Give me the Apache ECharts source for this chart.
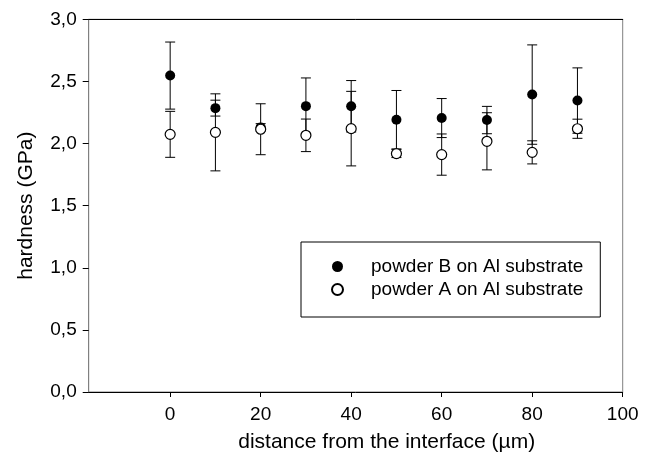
<!DOCTYPE html>
<html>
<head>
<meta charset="utf-8">
<script src="https://cdn.jsdelivr.net/npm/echarts@6/dist/echarts.min.js"></script>
<style>
  html, body { margin: 0; padding: 0; background: #fff; }
  #chart { width: 650px; height: 458px; }
</style>
</head>
<body>
<div id="chart"></div>
<script>
// Distance from the interface (µm)
const distances = [0, 10, 20, 30, 40, 50, 60, 70, 80, 90];

// Powder B on Al substrate: mean hardness (GPa) and error
const hardnessB = [2.547, 2.285, 2.13, 2.301, 2.30, 2.192, 2.205, 2.189, 2.394, 2.346];
const errorB    = [0.27, 0.064, 0.03, 0.227, 0.207, 0.235, 0.157, 0.11, 0.40, 0.263];

// Powder A on Al substrate: mean hardness (GPa) and error
const hardnessA = [2.074, 2.09, 2.115, 2.066, 2.12, 1.919, 1.911, 2.018, 1.929, 2.119];
const errorA    = [0.185, 0.31, 0.205, 0.131, 0.30, 0.032, 0.166, 0.23, 0.093, 0.077];

const xTicks = [0, 20, 40, 60, 80, 100];

const nameB = 'powder B on Al substrate';
const nameA = 'powder A on Al substrate';

const FONT = "'Liberation Sans', Arial, sans-serif";

const points = (ys) => distances.map((x, i) => [x, ys[i]]);
const bars = (ys, es) => distances.map((x, i) => [x, ys[i] - es[i], ys[i] + es[i]]);

function renderErrorBar(params, api) {
  const x = api.value(0);
  const lo = api.coord([x, api.value(1)]);
  const hi = api.coord([x, api.value(2)]);
  const hw = 5;
  const style = { stroke: '#000', lineWidth: 1 };
  return {
    type: 'group',
    children: [
      { type: 'line', shape: { x1: hi[0], y1: hi[1], x2: lo[0], y2: lo[1] }, style },
      { type: 'line', shape: { x1: hi[0] - hw, y1: hi[1], x2: hi[0] + hw, y2: hi[1] }, style },
      { type: 'line', shape: { x1: lo[0] - hw, y1: lo[1], x2: lo[0] + hw, y2: lo[1] }, style }
    ]
  };
}

const chart = echarts.init(document.getElementById('chart'), null, { renderer: 'canvas' });

chart.setOption({
  animation: false,
  backgroundColor: '#fff',
  textStyle: { fontFamily: FONT, color: '#000' },
  grid: {
    left: 88.7, right: 27.3, top: 19.3, bottom: 64.7,
    show: true, borderColor: '#808080', borderWidth: 1
  },
  legend: {
    data: [nameB, nameA],
    orient: 'vertical',
    left: 301, top: 242,
    padding: [15, 17, 18, 30],
    borderColor: '#000', borderWidth: 1,
    backgroundColor: '#fff',
    itemWidth: 11, itemHeight: 11, itemGap: 4,
    icon: 'circle',
    textStyle: { fontFamily: FONT, fontSize: 19, color: '#000', padding: [0, 0, 0, 23] }
  },
  xAxis: [{
    type: 'value',
    min: -18, max: 100,
    name: 'distance from the interface (µm)',
    nameLocation: 'middle',
    nameGap: 40,
    nameTextStyle: { fontFamily: FONT, fontSize: 21, color: '#000', padding: [0, 0, 0, 62] },
    axisLine: { show: true, onZero: false, lineStyle: { color: '#000', width: 1 } },
    axisTick: { show: true, length: 5, customValues: xTicks, lineStyle: { color: '#000' } },
    axisLabel: { customValues: xTicks, fontFamily: FONT, fontSize: 19, color: '#000', margin: 13 },
    splitLine: { show: false }
  }, {
    type: 'value',
    position: 'top',
    min: -18, max: 100,
    axisLine: { show: true, onZero: false, lineStyle: { color: '#000', width: 1 } },
    axisTick: { show: false },
    axisLabel: { show: false },
    splitLine: { show: false }
  }],
  yAxis: {
    type: 'value',
    position: 'left',
    min: 0, max: 3, interval: 0.5,
    name: 'hardness (GPa)',
    nameLocation: 'middle',
    nameGap: 52,
    nameTextStyle: { fontFamily: FONT, fontSize: 21, color: '#000' },
    axisLine: { show: true, onZero: false, lineStyle: { color: '#808080', width: 1 } },
    axisTick: { show: true, length: 6, lineStyle: { color: '#000' } },
    axisLabel: {
      fontFamily: FONT, fontSize: 19, color: '#000', margin: 12,
      formatter: (v) => v.toFixed(1).replace('.', ',')
    },
    splitLine: { show: false }
  },
  series: [
    {
      type: 'custom',
      name: 'errB',
      renderItem: renderErrorBar,
      data: bars(hardnessB, errorB),
      encode: { x: 0, y: [1, 2] },
      z: 2
    },
    {
      type: 'scatter',
      name: nameB,
      data: points(hardnessB),
      symbol: 'circle',
      symbolSize: 10,
      itemStyle: { color: '#000', opacity: 1 },
      z: 3
    },
    {
      type: 'custom',
      name: 'errA',
      renderItem: renderErrorBar,
      data: bars(hardnessA, errorA),
      encode: { x: 0, y: [1, 2] },
      z: 4
    },
    {
      type: 'scatter',
      name: nameA,
      data: points(hardnessA),
      symbol: 'circle',
      symbolSize: 10,
      itemStyle: { color: '#fff', borderColor: '#000', borderWidth: 1.2, opacity: 1 },
      z: 5
    }
  ]
});
</script>
</body>
</html>
